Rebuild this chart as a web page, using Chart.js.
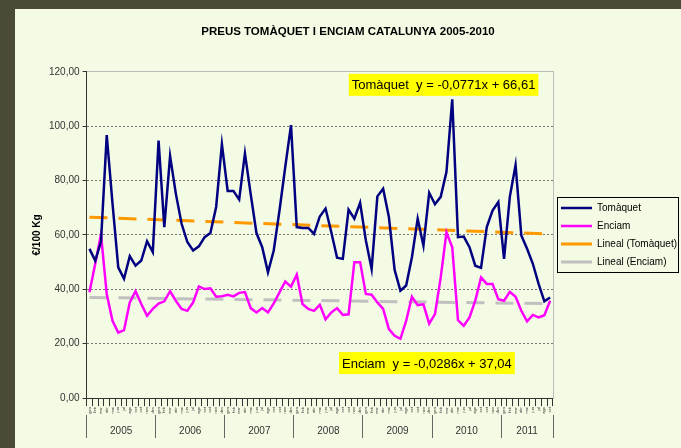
<!DOCTYPE html>
<html>
<head>
<meta charset="utf-8">
<script src="https://cdn.jsdelivr.net/npm/chart.js@4/dist/chart.umd.min.js"></script>
<style>
  html, body { margin: 0; padding: 0; background: #4a4a36; }
  #marc { position: absolute; left: 15px; top: 9px; width: 666px; height: 439px; background: #f3fbe4; }
</style>
</head>
<body>
<div id="marc"><canvas id="grafic"></canvas></div>
<script>
// Dades: preus mensuals (€/100 Kg), gener 2005 - setembre 2011
const mesos = ['gen', 'feb', 'mar', 'abr', 'mai', 'jun', 'jul', 'ago', 'set', 'oct', 'nov', 'des'];
const anys = ['2005', '2006', '2007', '2008', '2009', '2010', '2011'];

const tomaquet = [
  54.9, 50.6, 57.5, 96.7, 71.6, 48.1, 43.9, 52.2, 48.7, 50.6, 57.7, 53.7,
  94.7, 62.9, 89.0, 75.2, 64.1, 57.4, 54.3, 55.8, 59.2, 60.7, 70.3, 93.4,
  76.2, 76.2, 73.0, 90.0, 75.0, 60.7, 55.5, 46.3, 54.3, 69.0, 85.0, 100.4,
  62.9, 62.6, 62.6, 60.4, 66.8, 69.7, 61.0, 51.6, 51.2, 69.3, 66.0, 71.8,
  58.0, 47.5, 74.2, 77.0, 66.6, 47.1, 39.5, 41.4, 51.8, 66.0, 56.1, 75.5,
  71.3, 74.0, 83.2, 109.9, 59.2, 59.4, 55.5, 48.7, 47.9, 62.9, 69.0, 72.1,
  51.2, 74.0, 85.7, 59.8, 54.9, 49.4, 42.0, 35.6, 37.0
];

const enciam = [
  38.9, 49.4, 60.2, 38.3, 28.4, 24.1, 25.0, 35.2, 39.3, 34.6, 30.3, 32.8,
  34.8, 35.6, 39.3, 35.8, 32.8, 32.1, 35.2, 41.1, 40.1, 40.4, 37.3, 37.5,
  38.0, 37.4, 38.7, 39.0, 33.1, 31.5, 33.1, 31.5, 34.8, 38.9, 42.9, 41.0,
  45.4, 34.6, 32.8, 32.1, 34.3, 29.0, 31.5, 33.1, 30.6, 30.8, 50.0, 50.0,
  38.3, 38.0, 35.2, 32.8, 25.4, 22.9, 21.8, 28.4, 37.3, 34.2, 34.5, 27.4,
  30.9, 44.4, 61.0, 55.5, 28.7, 26.6, 29.7, 35.8, 44.4, 42.0, 42.0, 36.4,
  35.8, 39.1, 37.3, 32.1, 28.2, 30.6, 29.7, 30.5, 35.8
];

// extrems de les línies de tendència (primer i últim mes)
const tendTomaquet = [66.53, 60.36];
const tendEnciam = [37.01, 34.72];

// etiquetes de l'eix: un mes per punt
const etiquetes = tomaquet.map((v, i) => mesos[i % 12]);
const n = etiquetes.length;

// separacions i centres dels anys (en mesos)
const limitsAnys = [0, 12, 24, 36, 48, 60, 72, 81];
const centresAnys = [6, 18, 30, 42, 54, 66, 76.5];

function linia(extrems) {
  const d = new Array(n).fill(null);
  d[0] = extrems[0];
  d[n - 1] = extrems[1];
  return d;
}

const equacions = [
  { text: 'Tomàquet  y = -0,0771x + 66,61', x: 62.0, y: 115.2 },
  { text: 'Enciam  y = -0,0286x + 37,04', x: 59.1, y: 12.9 }
];

const font = 'Liberation Sans, Arial, sans-serif';

// amplada fixa de la llegenda
const ampladaLlegenda = {
  id: 'ampladaLlegenda',
  beforeLayout(chart) {
    const lg = chart.legend;
    if (lg && !lg._fixat) {
      const fit = lg.fit;
      lg.fit = function () { fit.call(this); this.width = 128; };
      lg._fixat = true;
    }
  }
};

const marcLlegenda = {
  id: 'marcLlegenda',
  afterDraw(chart) {
    const caixes = chart.legend.legendHitBoxes;
    if (!caixes || !caixes.length) return;
    let l = Infinity, t = Infinity, r = -Infinity, b = -Infinity;
    caixes.forEach(c => {
      l = Math.min(l, c.left); t = Math.min(t, c.top);
      r = Math.max(r, c.left + c.width); b = Math.max(b, c.top + c.height);
    });
    r = Math.min(r + 3, chart.width - 3);
    const ctx = chart.ctx;
    ctx.save();
    ctx.strokeStyle = '#000';
    ctx.lineWidth = 1;
    ctx.strokeRect(Math.round(l - 4) + 0.5, Math.round(t - 6) + 0.5, Math.round(r - l + 4), Math.round(b - t + 11));
    ctx.restore();
  }
};

const textEquacions = {
  id: 'textEquacions',
  afterDatasetsDraw(chart) {
    const ctx = chart.ctx;
    const sx = chart.scales.anys, sy = chart.scales.y;
    ctx.save();
    ctx.font = '13px ' + font;
    ctx.textAlign = 'center';
    ctx.textBaseline = 'middle';
    equacions.forEach(e => {
      const px = sx.getPixelForValue(e.x);
      const py = sy.getPixelForValue(e.y);
      const w = ctx.measureText(e.text).width + 6;
      ctx.fillStyle = '#ffff00';
      ctx.fillRect(px - w / 2, py - 11, w, 22);
      ctx.fillStyle = '#000';
      ctx.fillText(e.text, px, py + 1);
    });
    ctx.restore();
  }
};

new Chart(document.getElementById('grafic'), {
  type: 'line',
  data: {
    labels: etiquetes,
    datasets: [
      { label: 'Tomàquet', data: tomaquet, borderColor: '#000080', borderWidth: 2.5 },
      { label: 'Enciam', data: enciam, borderColor: '#ff00ff', borderWidth: 2.5 },
      { label: 'Lineal (Tomàquet)', data: linia(tendTomaquet), spanGaps: true, borderColor: '#ff9900', borderWidth: 3, borderDash: [18, 11] },
      { label: 'Lineal (Enciam)', data: linia(tendEnciam), spanGaps: true, borderColor: '#c0c0c0', borderWidth: 3, borderDash: [18, 11] }
    ]
  },
  options: {
    responsive: true,
    maintainAspectRatio: false,
    animation: false,
    layout: { padding: { left: 0, right: 0, top: 0, bottom: 33 } },
    elements: { point: { radius: 0 }, line: { tension: 0 } },
    plugins: {
      title: {
        display: true,
        text: 'PREUS TOMÀQUET I ENCIAM CATALUNYA 2005-2010',
        color: '#000',
        font: { family: font, size: 11.5, weight: 'bold' },
        padding: { top: 16, bottom: 33 }
      },
      legend: {
        position: 'right',
        title: { display: true, text: ' ', padding: 17, font: { family: font, size: 10 } },
        labels: {
          usePointStyle: true,
          pointStyle: 'line',
          pointStyleWidth: 31,
          boxHeight: 10,
          padding: 8,
          color: '#000',
          font: { family: font, size: 10 }
        }
      },
      tooltip: { enabled: false }
    },
    scales: {
      x: {
        type: 'category',
        offset: true,
        weight: 0,
        grid: { offset: true, drawOnChartArea: false, tickLength: 8, color: '#333' },
        border: { color: '#333' },
        ticks: { autoSkip: false, minRotation: 90, maxRotation: 90, padding: 1, color: '#333', font: { family: font, size: 4 } }
      },
      anys: {
        type: 'linear',
        position: 'bottom',
        weight: 1,
        min: 0,
        max: n,
        afterBuildTicks: s => {
          s.ticks = limitsAnys.concat(centresAnys).sort((a, b) => a - b).map(v => ({ value: v }));
        },
        grid: {
          drawOnChartArea: false,
          tickLength: 23,
          color: c => (c.tick && limitsAnys.includes(c.tick.value)) ? '#666' : 'rgba(0,0,0,0)'
        },
        border: { display: false },
        ticks: {
          autoSkip: false,
          maxRotation: 0,
          mirror: true,
          padding: -22,
          color: '#333',
          font: { family: font, size: 10 },
          callback: v => {
            const i = centresAnys.indexOf(v);
            return i >= 0 ? anys[i] : '';
          }
        }
      },
      y: {
        min: 0,
        max: 120,
        ticks: {
          stepSize: 20,
          padding: 3,
          color: '#333',
          font: { family: font, size: 10 },
          callback: v => v.toFixed(2).replace('.', ',')
        },
        grid: {
          color: c => (c.tick && c.tick.value === 120) ? '#bbb' : '#777',
          tickLength: 4,
          tickColor: '#333'
        },
        border: {
          color: '#333',
          dash: c => (c.tick && c.tick.value === 120) ? [] : [2, 2]
        },
        title: {
          display: true,
          text: '€/100 Kg',
          color: '#000',
          font: { family: font, size: 10, weight: 'bold' },
          padding: { top: 16, bottom: 3 }
        }
      },
      vora: {
        position: 'right',
        min: 0,
        max: 120,
        ticks: { display: false },
        grid: { drawOnChartArea: false, drawTicks: false },
        border: { color: '#bbb' }
      }
    }
  },
  plugins: [ampladaLlegenda, marcLlegenda, textEquacions]
});
</script>
</body>
</html>
